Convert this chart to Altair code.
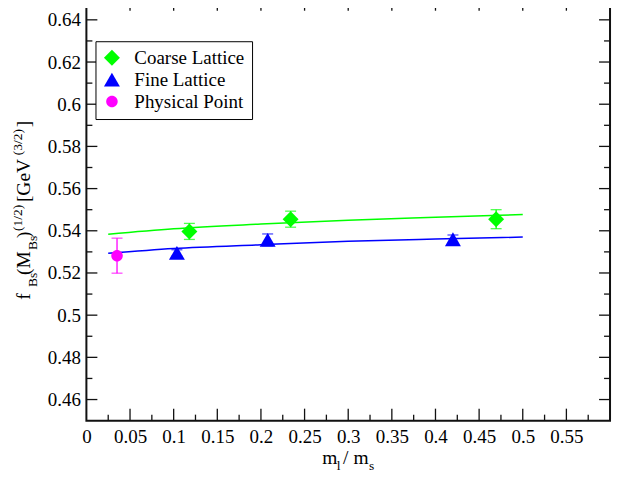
import altair as alt
import pandas as pd

SERIF = "Liberation Serif"

# ---------------- data ----------------
series_names = ["Coarse Lattice", "Fine Lattice", "Physical Point"]
series_colors = ["#00ff00", "#0000ff", "#ff00ff"]
SMALL_CIRCLE = "M0.72,0A0.72,0.72 0 1,1 -0.72,0A0.72,0.72 0 1,1 0.72,0Z"
series_shapes = ["diamond", "triangle-up", SMALL_CIRCLE]

coarse_x = [0.118, 0.234, 0.4695]
coarse_y = [0.5397, 0.5455, 0.5455]
coarse_err = [0.0038, 0.0038, 0.0045]

fine_x = [0.1037, 0.2077, 0.420]
fine_y = [0.5295, 0.5357, 0.5360]
fine_err = [0.0015, 0.0028, 0.0020]

phys_x = [0.0351]
phys_y = [0.5282]
phys_err = [0.0083]

fit_x = [0.025, 0.1, 0.2, 0.3, 0.4, 0.5]
coarse_fit = [0.5384, 0.5410, 0.5432, 0.5450, 0.5464, 0.5477]
fine_fit = [0.5293, 0.5316, 0.5334, 0.5350, 0.5361, 0.5370]

x_major = [0.05, 0.1, 0.15, 0.2, 0.25, 0.3, 0.35, 0.4, 0.45, 0.5, 0.55]
x_minor = [0.025, 0.075, 0.125, 0.175, 0.225, 0.275, 0.325, 0.375, 0.425, 0.475, 0.525, 0.575]
x_labels = [0, 0.05, 0.1, 0.15, 0.2, 0.25, 0.3, 0.35, 0.4, 0.45, 0.5, 0.55]
y_major = [0.46, 0.48, 0.5, 0.52, 0.54, 0.56, 0.58, 0.6, 0.62, 0.64]
y_minor = [0.47, 0.49, 0.51, 0.53, 0.55, 0.57, 0.59, 0.61, 0.63]

# ---------------- tables ----------------
rows = []
for name, xs, ys, es in [
    (series_names[0], coarse_x, coarse_y, coarse_err),
    (series_names[1], fine_x, fine_y, fine_err),
    (series_names[2], phys_x, phys_y, phys_err),
]:
    for x, y, e in zip(xs, ys, es):
        rows.append({"series": name, "x": x, "y": y, "lo": y - e, "hi": y + e})
pts = pd.DataFrame(rows)

fit_df = pd.DataFrame(
    [{"series": series_names[0], "x": x, "y": y} for x, y in zip(fit_x, coarse_fit)]
    + [{"series": series_names[1], "x": x, "y": y} for x, y in zip(fit_x, fine_fit)]
)

W, H = 525, 423
OX, OY = 86.6, -1.9  # page position of plot origin

xscale = alt.Scale(domain=[0, 0.6], nice=False, zero=False)
yscale = alt.Scale(domain=[0.45, 0.65], nice=False, zero=False)
cscale = alt.Scale(domain=series_names, range=series_colors)
sscale = alt.Scale(domain=series_names, range=series_shapes)

axis_style = dict(labelFont=SERIF, labelFontSize=19, labelColor="black",
                  ticks=False, domain=False, grid=False, title=None,
                  labelOverlap=False, format="~g")
xaxis = alt.Axis(values=x_labels, labelPadding=7, labelFlush=False, **axis_style)
yaxis = alt.Axis(values=y_major, labelPadding=6, **axis_style)


def X(field):
    return alt.X(field, scale=xscale, axis=xaxis)


def Y(field):
    return alt.Y(field, scale=yscale, axis=yaxis)


# fit lines
lines = []
for name, col in zip(series_names[:2], series_colors[:2]):
    lines.append(
        alt.Chart(fit_df[fit_df.series == name])
        .mark_line(color=col, strokeWidth=1.5, interpolate="monotone")
        .encode(x=X("x:Q"), y=Y("y:Q"))
    )

# error bars (fixed colours per series)
errs = []
for name, col in zip(series_names, series_colors):
    d = pts[pts.series == name]
    errs.append(alt.Chart(d).mark_rule(strokeWidth=1.3, color=col).encode(
        x=X("x:Q"), y=Y("lo:Q"), y2="hi:Q"))
    errs.append(alt.Chart(d).mark_tick(orient="horizontal", size=11, thickness=1.3, color=col).encode(
        x=X("x:Q"), y=Y("lo:Q")))
    errs.append(alt.Chart(d).mark_tick(orient="horizontal", size=11, thickness=1.3, color=col).encode(
        x=X("x:Q"), y=Y("hi:Q")))

legend = alt.Legend(
    orient="none", legendX=9.1, legendY=42.6, title=None,
    fillColor="white", strokeColor="black", padding=7, rowPadding=2,
    labelFont=SERIF, labelFontSize=19, labelColor="black", labelOffset=13,
    symbolOpacity=1, symbolStrokeWidth=0, symbolSize=256, labelLimit=300,
)

points = alt.Chart(pts).mark_point(filled=True, opacity=1, size=256).encode(
    x=X("x:Q"),
    y=Y("y:Q"),
    color=alt.Color("series:N", scale=cscale, legend=legend),
    shape=alt.Shape("series:N", scale=sscale, legend=legend),
)


# inward tick marks
def yticks(vals, x0, x1):
    return alt.Chart(pd.DataFrame({"v": vals})).mark_rule(color="#111", strokeWidth=1.3).encode(
        y=Y("v:Q"), x=alt.value(x0), x2=alt.value(x1))


def xticks(vals, y0, y1):
    return alt.Chart(pd.DataFrame({"v": vals})).mark_rule(color="#111", strokeWidth=1.3).encode(
        x=X("v:Q"), y=alt.value(y0), y2=alt.value(y1))


ticks = [
    yticks(y_major, 0, 11), yticks(y_minor, 0, 6),
    yticks(y_major, W, W - 11), yticks(y_minor, W, W - 6),
    xticks(x_major, H, H - 12), xticks(x_minor, H, H - 6),
    xticks(x_major, 0, 12), xticks(x_minor, 0, 6),
]

# titles with sub/superscripts
one = pd.DataFrame({"k": [0]})


def seg(text, px, py, size, angle=0):
    return alt.Chart(one).mark_text(
        text=text, angle=angle, align="left", baseline="alphabetic",
        font=SERIF, fontSize=size, color="black",
    ).encode(x=alt.value(px - OX), y=alt.value(py - OY))


MAIN, SMALL = 19.5, 13.5
ytitle = [
    seg("f", 30, 300, MAIN, 270),
    seg("Bs", 37, 287, SMALL, 270),
    seg("(M", 30, 275, MAIN, 270),
    seg("Bs", 37, 250, SMALL, 270),
    seg(")", 30, 238, MAIN, 270),
    seg("(1/2)", 22, 231, SMALL, 270),
    seg("[GeV", 30, 202, MAIN, 270),
    seg("(3/2)", 22, 155, SMALL, 270),
    seg("]", 30, 127, MAIN, 270),
]
xtitle = [
    seg("m", 323, 465, MAIN),
    seg("l", 337.5, 471, SMALL),
    seg("/ m", 344, 465, MAIN),
    seg("s", 370, 471, SMALL),
]

chart = alt.layer(
    *lines, *errs, points, *ticks, *ytitle, *xtitle
).properties(
    width=W, height=H,
    background="white",
    autosize=alt.AutoSizeParams(type="none"),
    padding={"left": OX - 8, "top": OY - 8, "right": 10, "bottom": 62},
).configure_view(
    stroke="#111", strokeWidth=2
).configure_axis(
    labelFont=SERIF, labelFontSize=19, labelColor="black",
    ticks=False, domain=False, grid=False,
)

chart.save("out.html", embed_options={"renderer": "svg", "actions": False})
